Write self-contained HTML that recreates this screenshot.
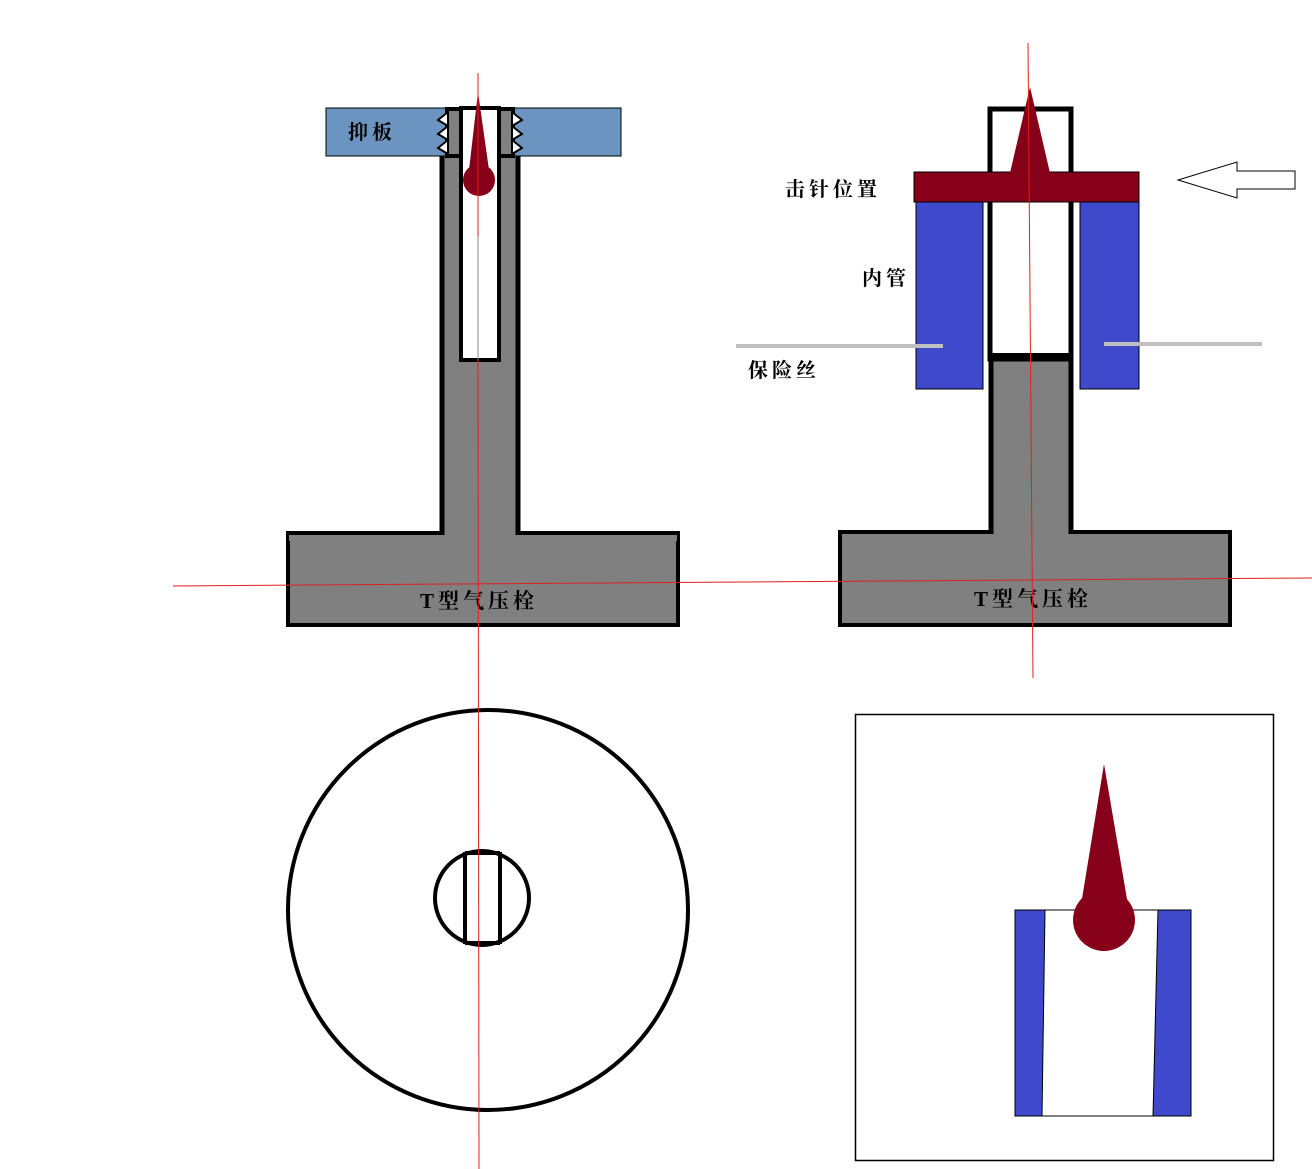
<!DOCTYPE html>
<html><head><meta charset="utf-8"><style>
html,body{margin:0;padding:0;background:#fff;}
svg{display:block}
text{font-family:"Liberation Serif","Noto Serif CJK SC","Noto Sans CJK SC",serif;font-weight:bold;}
</style></head><body>
<svg width="1312" height="1169" viewBox="0 0 1312 1169" xmlns="http://www.w3.org/2000/svg">
<!-- LEFT T -->
<rect x="288" y="533" width="390" height="92" fill="#808080" stroke="#000" stroke-width="4"/>
<rect x="442" y="150" width="76" height="386" fill="#808080" stroke="none"/>
<line x1="442" y1="150" x2="442" y2="535" stroke="#000" stroke-width="5"/>
<line x1="518" y1="150" x2="518" y2="535" stroke="#000" stroke-width="5"/>
<rect x="289" y="535" width="388" height="6" fill="#808080"/>
<line x1="288" y1="533" x2="442" y2="533" stroke="#000" stroke-width="4"/>
<line x1="518" y1="533" x2="678" y2="533" stroke="#000" stroke-width="4"/>
<!-- plate -->
<rect x="326" y="108" width="295" height="48" fill="#6c94c0" stroke="#000" stroke-width="1"/>
<rect x="447" y="109" width="66" height="46" fill="#808080"/>
<rect x="447" y="109" width="66" height="47" fill="none" stroke="#000" stroke-width="4"/>
<!-- teeth -->
<polygon points="448,112 438,120 448,126 438,134 448,140 438,148 448,154" fill="#fff" stroke="#000" stroke-width="2"/>
<polygon points="512,112 522,120 512,126 522,134 512,140 522,148 512,154" fill="#fff" stroke="#000" stroke-width="2"/>
<rect x="461" y="108" width="38" height="252" fill="#fff" stroke="#000" stroke-width="4"/>
<text x="348" y="139" font-size="20" letter-spacing="4" fill="#000">抑板</text>
<!-- pin -->
<polygon points="478,92 469,170 489,170" fill="#850018"/>
<circle cx="479" cy="180" r="16" fill="#850018"/>
<text x="420" y="608" font-size="21" letter-spacing="4" fill="#000">T型气压栓</text>

<!-- RIGHT -->
<rect x="840" y="532" width="390" height="93" fill="#808080" stroke="#000" stroke-width="4"/>
<rect x="991" y="358" width="79" height="180" fill="#808080"/>
<line x1="991" y1="355" x2="991" y2="534" stroke="#000" stroke-width="5"/>
<line x1="1071" y1="355" x2="1071" y2="534" stroke="#000" stroke-width="5"/>
<line x1="840" y1="532" x2="991" y2="532" stroke="#000" stroke-width="4"/>
<line x1="1071" y1="532" x2="1230" y2="532" stroke="#000" stroke-width="4"/>
<rect x="842" y="534" width="386" height="6" fill="#808080"/>
<rect x="916" y="202" width="67" height="187" fill="#3f49cc" stroke="#000" stroke-width="1"/>
<rect x="1080" y="202" width="59" height="187" fill="#3f49cc" stroke="#000" stroke-width="1"/>
<rect x="990" y="109" width="81" height="250" fill="none" stroke="#000" stroke-width="5"/>
<line x1="988" y1="356" x2="1072" y2="356" stroke="#000" stroke-width="6"/>
<rect x="914" y="172" width="225" height="30" fill="#850018" stroke="#000" stroke-width="1"/>
<polygon points="1030,87 1010,173 1050,173" fill="#850018"/>
<text x="974" y="606" font-size="21" letter-spacing="4" fill="#000">T型气压栓</text>
<text x="785" y="196" font-size="20" letter-spacing="4" fill="#000">击针位置</text>
<text x="862" y="285" font-size="20" letter-spacing="4" fill="#000">内管</text>
<text x="748" y="377" font-size="20" letter-spacing="4" fill="#000">保险丝</text>
<line x1="736" y1="346" x2="943" y2="346" stroke="#c0c0c0" stroke-width="4"/>
<line x1="1104" y1="344" x2="1262" y2="344" stroke="#c0c0c0" stroke-width="4"/>
<polygon points="1178,180 1237,162 1237,171 1295,171 1295,189 1237,189 1237,198" fill="#fff" stroke="#000" stroke-width="1"/>

<!-- circles -->
<circle cx="488" cy="910" r="200" fill="none" stroke="#000" stroke-width="4"/>
<circle cx="482" cy="898" r="47" fill="none" stroke="#000" stroke-width="4"/>
<line x1="465" y1="852" x2="465" y2="944" stroke="#000" stroke-width="4"/>
<line x1="500" y1="852" x2="500" y2="944" stroke="#000" stroke-width="4"/>
<line x1="465" y1="853" x2="500" y2="853" stroke="#000" stroke-width="4"/>
<line x1="465" y1="943" x2="500" y2="943" stroke="#000" stroke-width="4"/>

<!-- bottom right -->
<rect x="855.5" y="714.5" width="418" height="446" fill="none" stroke="#000" stroke-width="1.5"/>
<rect x="1015" y="910" width="176" height="206" fill="#fff" stroke="#000" stroke-width="1"/>
<polygon points="1015,910 1045,910 1042,1116 1015,1116" fill="#3f49cc" stroke="#000" stroke-width="1"/>
<polygon points="1158,910 1191,910 1191,1116 1153,1116" fill="#3f49cc" stroke="#000" stroke-width="1"/>
<polygon points="1104,764 1081,905 1128,905" fill="#850018"/>
<circle cx="1104" cy="920" r="31" fill="#850018"/>

<!-- red center lines -->
<line x1="173" y1="586" x2="1312" y2="578" stroke="#e02020" stroke-width="1"/>
<line x1="478" y1="73" x2="478" y2="236" stroke="#e02020" stroke-width="1"/>
<line x1="478" y1="360" x2="479" y2="1169" stroke="#e02020" stroke-width="1"/>
<line x1="478" y1="236" x2="478" y2="360" stroke="#888" stroke-width="1"/>
<line x1="1028" y1="43" x2="1033" y2="678" stroke="#e02020" stroke-width="1"/>
</svg>
</body></html>
